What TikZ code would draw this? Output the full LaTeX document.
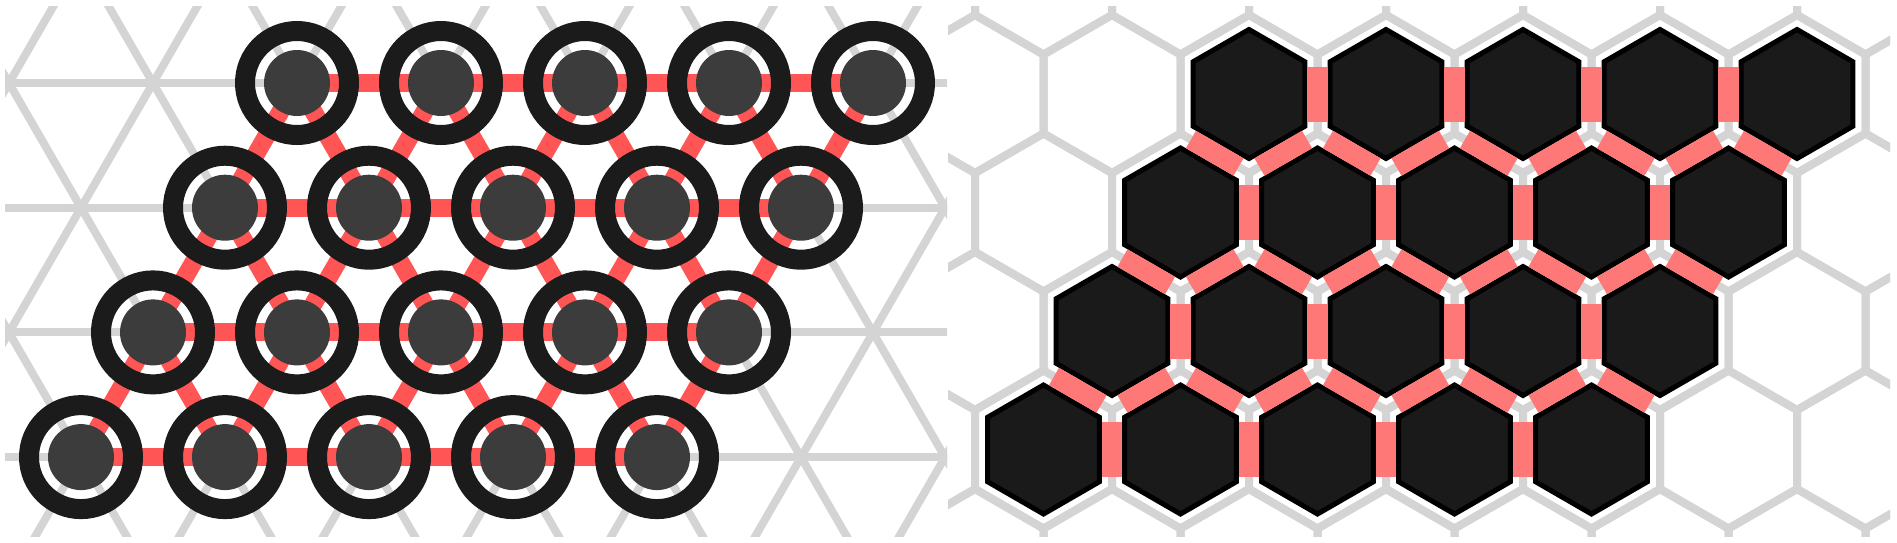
\documentclass[tikz,border=0pt]{standalone}
\usetikzlibrary{shapes.geometric,backgrounds}
\definecolor{gridgray}{HTML}{D4D4D4}
\definecolor{bondred}{HTML}{FF5555}
\definecolor{edgered}{HTML}{FF7878}
\definecolor{ringblack}{HTML}{1B1B1B}
\definecolor{diskgray}{HTML}{3C3C3C}
\definecolor{hexblack}{HTML}{1A1A1A}
\tikzset{
  lattice/.style={gridgray, line width=4pt},
  bond/.style={bondred, line width=9pt},
  site/.style={circle, draw=ringblack, line width=10pt, minimum size=52pt, inner sep=0pt,
    path picture={\fill[diskgray] (path picture bounding box.center) circle[radius=16.5pt];}},
  cell/.style={regular polygon, regular polygon sides=6, shape border rotate=30, draw=black, fill=hexblack,
    line width=2.5pt, minimum size=64.5pt, inner sep=0pt, preaction={draw=white, line width=8pt}},
  link/.style={edgered, line width=27.5pt},
}
\begin{document}
\begin{tikzpicture}[x=0.5pt, y=-0.5pt]
\useasboundingbox (0,0) rectangle (1897,542);
% sites on the triangular lattice
\foreach \r in {0,...,3} \foreach \i in {0,...,4} \node[site] (s\r\i) at (297+144*\i-72*\r, 83+124.7*\r) {};
% cells on the honeycomb
\foreach \r in {0,...,3} \foreach \i in {0,...,4} \node[cell] (h\r\i) at (1249+137*\i-68.5*\r, 94+118.5*\r) {};
\foreach \r in {0,...,3} \foreach \i [count=\j from 1] in {0,...,3} \draw[link] (h\r\i) -- (h\r\j);
\foreach \r [count=\q from 1] in {0,1,2} {
  \foreach \i in {0,...,4} \draw[link] (h\r\i) -- (h\q\i);
  \foreach \i [count=\j from 1] in {0,...,3} \draw[link] (h\r\i) -- (h\q\j);
}
\begin{pgfonlayer}{background}
\begin{scope}
\clip (5,6) rectangle (947,536);
\foreach \y in {83,207.7,332.4,457.1} \draw[lattice] (0,\y) -- (950,\y);
\foreach \i in {-4,...,7} {
  \draw[lattice] (297+144*\i-105.7,-100) -- (297+144*\i+356.2,700);
  \draw[lattice] (297+144*\i+105.7,-100) -- (297+144*\i-356.2,700);
}
\end{scope}
\foreach \r in {0,...,3} \foreach \i [count=\j from 1] in {0,...,3} \draw[bond] (s\r\i.center) -- (s\r\j.center);
\foreach \r [count=\q from 1] in {0,1,2} {
  \foreach \i in {0,...,4} \draw[bond] (s\r\i.center) -- (s\q\i.center);
  \foreach \i [count=\j from 1] in {0,...,3} \draw[bond] (s\r\i.center) -- (s\q\j.center);
}
\begin{scope}
\clip (948,6) rectangle (1890,536);
\foreach \r in {-1,...,4} \foreach \i in {-3,...,7}
  \draw[lattice] (1249+137*\i-68.5*\r, 94+118.5*\r-79.1) -- ++(68.5,39.55) -- ++(0,79.1) -- ++(-68.5,39.55) -- ++(-68.5,-39.55) -- ++(0,-79.1) -- cycle;
\end{scope}
\end{pgfonlayer}
\end{tikzpicture}
\end{document}
